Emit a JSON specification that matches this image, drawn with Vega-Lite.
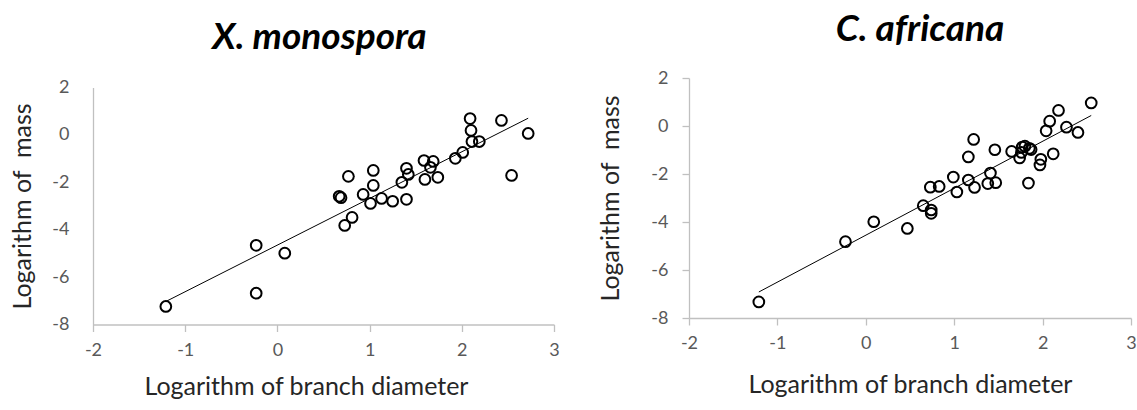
{
  "$schema": "https://vega.github.io/schema/vega-lite/v6.json",
  "background": "white",
  "padding": {"left": 10, "top": 11, "right": 2, "bottom": 0},
  "spacing": 38,
  "center": true,
  "datasets": {
    "xm": [
      {"x": -1.21, "y": -7.24}, {"x": -0.23, "y": -4.66}, {"x": -0.23, "y": -6.68}, {"x": 0.08, "y": -4.99},
      {"x": 0.73, "y": -3.82}, {"x": 0.81, "y": -3.48}, {"x": 0.67, "y": -2.59}, {"x": 0.69, "y": -2.65},
      {"x": 0.77, "y": -1.75}, {"x": 0.93, "y": -2.51}, {"x": 1.01, "y": -2.89}, {"x": 1.04, "y": -2.13},
      {"x": 1.04, "y": -1.5}, {"x": 1.13, "y": -2.68}, {"x": 1.25, "y": -2.8}, {"x": 1.4, "y": -2.72},
      {"x": 1.35, "y": -2.0}, {"x": 1.4, "y": -1.41}, {"x": 1.42, "y": -1.67}, {"x": 1.59, "y": -1.08},
      {"x": 1.6, "y": -1.88}, {"x": 1.66, "y": -1.37}, {"x": 1.69, "y": -1.12}, {"x": 1.74, "y": -1.79},
      {"x": 1.93, "y": -0.99}, {"x": 2.01, "y": -0.74}, {"x": 2.09, "y": 0.69}, {"x": 2.1, "y": 0.19},
      {"x": 2.11, "y": -0.28}, {"x": 2.19, "y": -0.28}, {"x": 2.43, "y": 0.61}, {"x": 2.72, "y": 0.06},
      {"x": 2.54, "y": -1.71}
    ],
    "ca": [
      {"x": -1.21, "y": -7.33}, {"x": -0.23, "y": -4.82}, {"x": 0.09, "y": -3.99}, {"x": 0.47, "y": -4.27},
      {"x": 0.65, "y": -3.32}, {"x": 0.74, "y": -3.5}, {"x": 0.74, "y": -3.64}, {"x": 0.73, "y": -2.55},
      {"x": 0.83, "y": -2.52}, {"x": 0.99, "y": -2.13}, {"x": 1.03, "y": -2.75}, {"x": 1.16, "y": -2.25},
      {"x": 1.23, "y": -2.56}, {"x": 1.16, "y": -1.29}, {"x": 1.22, "y": -0.56}, {"x": 1.38, "y": -2.4},
      {"x": 1.41, "y": -1.96}, {"x": 1.47, "y": -2.36}, {"x": 1.46, "y": -0.99}, {"x": 1.65, "y": -1.06},
      {"x": 1.74, "y": -1.33}, {"x": 1.76, "y": -1.1}, {"x": 1.77, "y": -0.88}, {"x": 1.8, "y": -0.84},
      {"x": 1.85, "y": -0.93}, {"x": 1.87, "y": -0.98}, {"x": 1.84, "y": -2.38}, {"x": 1.97, "y": -1.62},
      {"x": 1.98, "y": -1.39}, {"x": 2.12, "y": -1.16}, {"x": 2.04, "y": -0.2}, {"x": 2.08, "y": 0.2},
      {"x": 2.18, "y": 0.65}, {"x": 2.27, "y": -0.05}, {"x": 2.4, "y": -0.27}, {"x": 2.55, "y": 0.96}
    ]
  },
  "config": {
    "font": "Lato",
    "view": {"stroke": null},
    "axis": {
      "grid": false,
      "domainColor": "#c0c0c0",
      "domainWidth": 1.3,
      "tickColor": "#c0c0c0",
      "tickWidth": 1.3,
      "tickSize": 7,
      "labelColor": "#595959",
      "labelFont": "Lato",
      "labelFontSize": 18,
      "labelFlush": false,
      "labelOverlap": false,
      "labelExpr": "toString(datum.value)",
      "titleFont": "Lato",
      "titleFontSize": 25,
      "titleFontWeight": "normal",
      "titleColor": "#262626"
    },
    "title": {"font": "Lato", "fontSize": 37, "fontStyle": "italic", "fontWeight": "bold", "color": "#000000", "anchor": "middle"}
  },
  "hconcat": [
    {
      "width": 461,
      "height": 237,
      "title": {"text": "X. monospora", "offset": 22, "dx": -4},
      "data": {"name": "xm"},
      "layer": [
        {
          "mark": {"type": "point", "shape": "circle", "filled": false, "color": "#000000", "strokeWidth": 2, "size": 115, "opacity": 1},
          "encoding": {
            "x": {"field": "x", "type": "quantitative", "scale": {"domain": [-2, 3], "nice": false, "zero": false},
                  "axis": {"values": [-2, -1, 0, 1, 2, 3], "title": "Logarithm of branch diameter", "labelPadding": 10, "titlePadding": 15, "titleX": 213}},
            "y": {"field": "y", "type": "quantitative", "scale": {"domain": [-8, 2], "nice": false, "zero": false},
                  "axis": {"values": [-8, -6, -4, -2, 0, 2], "title": "Logarithm of\u00a0 mass", "ticks": false, "labelPadding": 24, "titlePadding": 16}}
          }
        },
        {
          "transform": [{"regression": "y", "on": "x", "method": "linear"}],
          "mark": {"type": "line", "color": "#000000", "strokeWidth": 1},
          "encoding": {
            "x": {"field": "x", "type": "quantitative"},
            "y": {"field": "y", "type": "quantitative"}
          }
        }
      ]
    },
    {
      "width": 442,
      "height": 240,
      "title": {"text": "C. africana", "offset": 20, "dx": 10},
      "data": {"name": "ca"},
      "layer": [
        {
          "mark": {"type": "point", "shape": "circle", "filled": false, "color": "#000000", "strokeWidth": 2, "size": 115, "opacity": 1},
          "encoding": {
            "x": {"field": "x", "type": "quantitative", "scale": {"domain": [-2, 3], "nice": false, "zero": false},
                  "axis": {"values": [-2, -1, 0, 1, 2, 3], "title": ["Logarithm of branch diameter", " "], "titleLineHeight": 12, "labelPadding": 9, "titlePadding": 20}},
            "y": {"field": "y", "type": "quantitative", "scale": {"domain": [-8, 2], "nice": false, "zero": false},
                  "axis": {"values": [-8, -6, -4, -2, 0, 2], "title": "Logarithm of\u00a0 mass", "labelPadding": 14, "titlePadding": 27}}
          }
        },
        {
          "transform": [{"regression": "y", "on": "x", "method": "linear"}],
          "mark": {"type": "line", "color": "#000000", "strokeWidth": 1},
          "encoding": {
            "x": {"field": "x", "type": "quantitative"},
            "y": {"field": "y", "type": "quantitative"}
          }
        }
      ]
    }
  ]
}
